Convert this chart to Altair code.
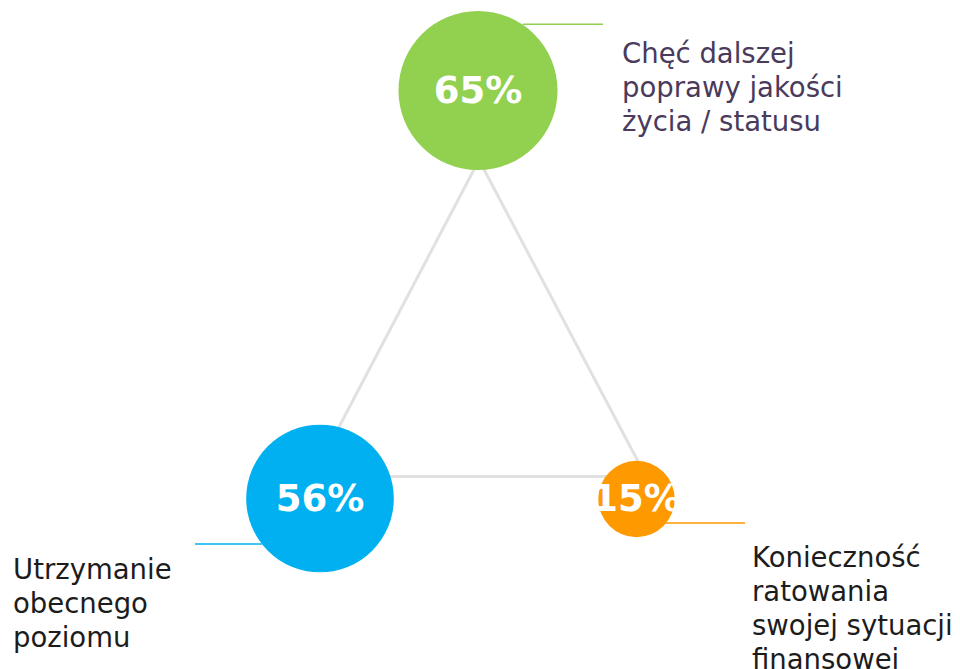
import altair as alt
import pandas as pd

# ---- data ----
categories = [
    "Chęć dalszej\npoprawy jakości\nżycia / statusu",
    "Utrzymanie\nobecnego\npoziomu",
    "Konieczność\nratowania\nswojej sytuacji\nfinansowej",
]
values = [65, 56, 15]
value_labels = ["65%", "56%", "15%"]

# ---- styles ----
circle_colors = ["#92d050", "#00b0f0", "#ff9900"]
label_colors = ["#4a3a5c", "#1c1c1c", "#1c1c1c"]

# ---- layout (chart pixel space, y downward) ----
W, H = 944, 661
circle_x = [470, 312, 628.5]
circle_y = [82.5, 490.5, 491]
label_x = [614, 5, 744]
label_y = [55, 571, 558.7]
leader_x1 = [515, 187, 657]
leader_x2 = [595, 254, 737]
leader_y = [16.3, 536, 515]
tri_x = [471, 305, 638, 471]
tri_y = [152, 468.5, 468.5, 152]

xs = alt.Scale(domain=[0, W], range=[0, W])
ys = alt.Scale(domain=[0, H], range=[0, H])
X = lambda f: alt.X(f, type="quantitative", scale=xs, axis=None)
Y = lambda f: alt.Y(f, type="quantitative", scale=ys, axis=None)

df = pd.DataFrame({
    "cat": categories, "value": values, "vlabel": value_labels,
    "cx": circle_x, "cy": circle_y, "lx": label_x, "ly": label_y,
    "x1": leader_x1, "x2": leader_x2, "ly2": leader_y,
    "color": circle_colors, "tcolor": label_colors,
})
tri = pd.DataFrame({"x": tri_x, "y": tri_y, "o": list(range(len(tri_x)))})

base = alt.Chart(df)

triangle = alt.Chart(tri).mark_line(color="#e1e1e1", strokeWidth=3).encode(
    x=X("x"), y=Y("y"), order="o:Q"
)

leaders = base.mark_rule(strokeWidth=1.5).encode(
    x=X("x1"), x2="x2", y=Y("ly2"),
    color=alt.Color("color:N", scale=None),
)

circles = base.mark_point(filled=True, opacity=1, shape="circle").encode(
    x=X("cx"), y=Y("cy"),
    size=alt.Size("value:Q", scale=alt.Scale(domain=[0, 65], range=[0, 25300]), legend=None),
    color=alt.Color("color:N", scale=None),
)

pct = base.mark_text(
    font="DejaVu Sans", fontWeight="bold", fontSize=37, color="white",
    align="center", baseline="middle", dy=1,
).encode(x=X("cx"), y=Y("cy"), text="vlabel:N")

labels = base.mark_text(
    font="DejaVu Sans", fontSize=27.5, align="left", baseline="alphabetic",
    lineBreak="\n", lineHeight=34,
).encode(
    x=X("lx"), y=Y("ly"), text="cat:N",
    color=alt.Color("tcolor:N", scale=None),
)

chart = alt.layer(triangle, leaders, circles, pct, labels).properties(
    width=W, height=H, padding=0, autosize="none"
).configure_view(stroke=None)

chart.save("out.html", embed_options={"renderer": "svg", "actions": False})
